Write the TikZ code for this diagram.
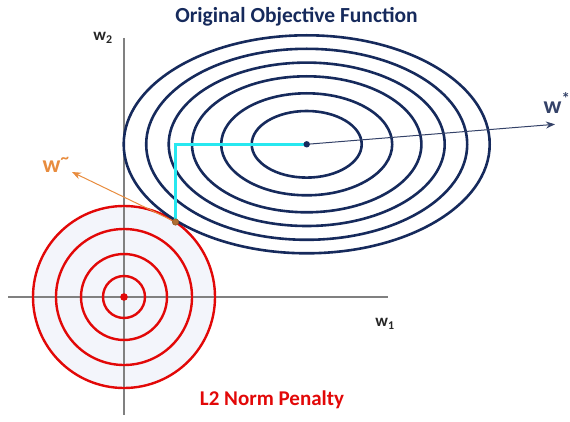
\documentclass[tikz,border=0pt]{standalone}
\usepackage{fontspec}
\setsansfont{Carlito}
\usetikzlibrary{arrows.meta}

\definecolor{navy}{RGB}{22,42,92}
\definecolor{slate}{RGB}{52,66,104}
\definecolor{penred}{RGB}{226,8,8}
\definecolor{penfill}{RGB}{243,245,251}
\definecolor{cyanline}{RGB}{40,232,240}
\definecolor{orangeline}{RGB}{232,140,62}
\definecolor{tdot}{RGB}{176,110,50}

\tikzset{
  axisline/.style={draw=black!50, line width=1.5pt},
  redring/.style={draw=penred, line width=2.4pt},
  contour/.style={draw=navy, line width=2.6pt},
  pathline/.style={draw=cyanline, line width=2.6pt},
  lbl/.style={inner sep=0pt, font=\sffamily\bfseries},
}

\begin{document}
\begin{tikzpicture}[x=1pt, y=-1pt]
  \useasboundingbox (0,0) rectangle (570,422);
  % points
  \coordinate (o) at (124,297);
  \coordinate (c) at (306.7,144.3);
  \coordinate (k) at (175.5,144.3);
  \coordinate (t) at (175.5,222);
  \coordinate (xl) at (8,297);
  \coordinate (xr) at (388,297);
  \coordinate (yt) at (124,38);
  \coordinate (yb) at (124,415);
  \coordinate (ws) at (555,124.3);
  \coordinate (wt) at (72,172);
  % penalty region
  \fill[penfill] (o) circle[radius=91];
  \draw[axisline] (xl) -- (xr);
  \draw[axisline] (yt) -- (yb);
  \foreach \r in {21,43,68,91}{\draw[redring] (o) circle[radius=\r];}
  % objective contours
  \foreach \a/\b in {55/33.3, 85.5/51, 114.7/68, 138/81.7, 160.5/95.5, 183/109}{
    \draw[contour] (c) ellipse[x radius=\a, y radius=\b];}
  % paths and arrows
  \draw[pathline] (c) -- (k) -- (t);
  \draw[slate, line width=1pt, -{Stealth[length=9pt, width=7pt]}] (c) -- (ws);
  \draw[orangeline, line width=1pt, -{Stealth[length=9pt, width=7pt]}] (t) -- (wt);
  \fill[navy] (c) circle[radius=3.2];
  \fill[penred] (o) circle[radius=3.8];
  \filldraw[draw=tdot!80!black, fill=tdot, line width=0.6pt] (t) circle[radius=3.2];
  % labels
  \node[lbl, navy, font=\sffamily\bfseries\fontsize{21.5}{24}\selectfont] (ttl) at (296.5,17) {Original Objective Function};
  \node[lbl, penred, font=\sffamily\bfseries\fontsize{21}{24}\selectfont] (pen) at (272,400) {L2 Norm Penalty};
  \node[lbl, black!85, font=\sffamily\bfseries\fontsize{17}{20}\selectfont] (w2) at (103,38) {w\textsubscript{2}};
  \node[lbl, black!85, font=\sffamily\bfseries\fontsize{17}{20}\selectfont] (w1) at (385,324) {w\textsubscript{1}};
  \node[lbl, slate, font=\sffamily\bfseries\fontsize{24}{28}\selectfont] (wstar) at (557,103) {w\textsuperscript{*}};
  \node[lbl, orangeline, font=\sffamily\bfseries\fontsize{24}{28}\selectfont] (wtil) at (56,165) {w\textsuperscript{\textasciitilde}};
\end{tikzpicture}
\end{document}
